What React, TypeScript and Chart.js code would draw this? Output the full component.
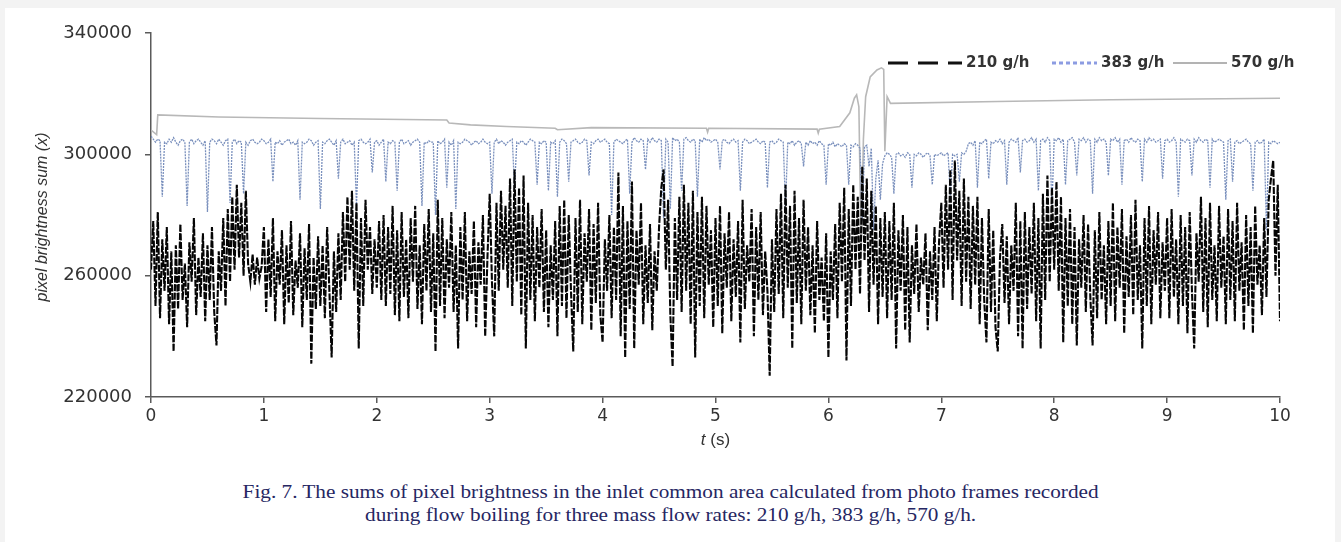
import React, { useEffect, useRef } from 'react';
import { Chart, registerables } from 'chart.js';

Chart.register(...registerables);

// ---------- data ----------
const SERIES_LABELS = ['210 g/h', '383 g/h', '570 g/h'];
const X_TICKS = [0, 1, 2, 3, 4, 5, 6, 7, 8, 9, 10];
const Y_TICKS = [220000, 260000, 300000, 340000];
const X_TITLE_ITALIC = 't';
const X_TITLE_REST = ' (s)';
const Y_TITLE = 'pixel brightness sum (x)';
const CAPTION_1 = 'Fig. 7. The sums of pixel brightness in the inlet common area calculated from photo frames recorded';
const CAPTION_2 = 'during flow boiling for three mass flow rates: 210 g/h, 383 g/h, 570 g/h.';

// sampling interval of the frame series (s)
const FRAME_DT = 0.02;

// 210 g/h, pixel brightness sum in thousands, one value per frame (t = 0 … 10 s)
const sum210k = [
  262, 278, 250, 281, 246, 272, 255, 276, 244, 268, 235, 270, 249, 277, 252, 264, 243, 271, 258, 279, 247, 266, 253, 274, 245,
  270, 252, 276, 248, 237, 268, 255, 279, 250, 282, 258, 286, 262, 290, 266, 284, 260, 288, 264, 258, 267, 257, 266, 259, 263,
  276, 248, 272, 253, 279, 245, 268, 257, 275, 244, 270, 251, 278, 247, 265, 256, 274, 243, 269, 252, 277, 231, 266, 249, 273,
  250, 270, 246, 276, 255, 233, 268, 248, 274, 252, 281, 258, 286, 262, 288, 255, 284, 236, 279, 250, 285, 262, 276, 254, 272,
  256, 278, 252, 280, 250, 276, 254, 283, 247, 275, 245, 281, 253, 272, 246, 279, 258, 283, 249, 270, 244, 277, 255, 282, 248,
  274, 235, 285, 250, 279, 246, 272, 256, 281, 248, 270, 236, 276, 252, 281, 245, 268, 254, 278, 243, 271, 257, 280, 240, 266,
  287, 258, 240, 284, 255, 288, 262, 283, 256, 292, 250, 295, 258, 289, 247, 293, 236, 284, 252, 280, 245, 276, 256, 282, 248,
  275, 243, 270, 252, 278, 240, 283, 250, 285, 246, 280, 255, 235, 279, 248, 285, 244, 274, 258, 282, 242, 277, 251, 284, 247,
  238, 272, 255, 280, 246, 276, 252, 294, 240, 283, 233, 278, 249, 291, 236, 275, 257, 284, 244, 270, 251, 277, 242, 268, 255,
  276, 289, 295, 262, 285, 247, 230, 279, 252, 286, 248, 290, 255, 284, 244, 288, 233, 281, 250, 286, 246, 283, 257, 275, 243,
  279, 250, 283, 241, 274, 256, 281, 245, 272, 253, 278, 238, 285, 249, 270, 258, 282, 240, 276, 252, 281, 247, 268, 255, 227,
  272, 248, 282, 254, 287, 246, 290, 256, 283, 236, 288, 251, 279, 244, 285, 255, 276, 247, 270, 241, 278, 252, 266, 245, 274,
  233, 268, 252, 277, 246, 284, 258, 289, 232, 282, 250, 290, 262, 286, 254, 296, 265, 292, 248, 288, 257, 283, 244, 279, 253,
  281, 246, 278, 252, 284, 236, 275, 255, 280, 242, 276, 238, 270, 254, 277, 248, 266, 257, 274, 242, 268, 252, 276, 245, 271,
  284, 256, 290, 262, 295, 252, 298, 265, 288, 250, 292, 258, 286, 249, 283, 257, 286, 244, 279, 252, 238, 282, 248, 275, 243,
  235, 266, 277, 251, 273, 244, 270, 255, 284, 240, 278, 236, 281, 249, 276, 254, 284, 245, 279, 236, 287, 252, 293, 258, 289,
  262, 291, 255, 286, 238, 279, 250, 282, 244, 276, 237, 272, 256, 280, 248, 277, 253, 237, 275, 246, 281, 252, 270, 244, 278,
  250, 284, 245, 276, 256, 282, 241, 273, 253, 280, 247, 285, 252, 270, 236, 279, 250, 283, 244, 275, 257, 281, 246, 271, 255,
  279, 246, 282, 253, 272, 244, 280, 250, 276, 241, 281, 255, 236, 274, 258, 286, 248, 279, 243, 284, 252, 270, 245, 283, 256,
  273, 244, 282, 252, 278, 245, 284, 255, 271, 242, 280, 250, 276, 241, 283, 257, 270, 247, 279, 253, 285, 292, 298, 260, 290,
  245,
];

// 383 g/h, pixel brightness sum in thousands, one value per frame (t = 0 … 10 s)
const sum383k = [
  306, 305, 304, 305, 304.5, 286, 304, 303.5, 305, 304, 305.5, 304, 303, 304.5, 305, 304, 283, 304, 305, 303.5, 304.5, 305, 304, 303, 304.5,
  281, 304, 305, 304.5, 303.5, 305, 304, 303, 304.5, 305, 284, 304, 305, 303.5, 304.5, 304, 287, 304, 303, 304.5, 305, 304, 303.5, 304, 305,
  304.5, 303.5, 304, 305, 291, 304, 303.5, 304.5, 303, 304, 304.5, 305, 303.5, 304, 303, 304.5, 285, 304, 303.5, 304, 305, 304.5, 303, 304, 304.5,
  282, 304, 303.5, 304.5, 305, 304, 303, 304.5, 292, 304, 305, 303.5, 304, 304.5, 303, 304, 283, 304.5, 305, 304, 303.5, 304, 305, 294, 304,
  304.5, 303, 304, 305, 291, 304, 303.5, 304.5, 304, 288, 304, 305, 303.5, 304, 304.5, 303, 304, 304.5, 305, 304, 283, 304, 303.5, 304.5, 304,
  304, 280, 304.5, 303.5, 304, 305, 289, 304, 303, 304.5, 282, 304, 303.5, 304, 305, 304.5, 304, 303, 304, 304.5, 303.5, 304, 305, 304, 303.5,
  304, 287, 304, 305, 303.5, 304.5, 304, 303, 304, 304.5, 305, 289, 304, 303.5, 304.5, 304, 303, 304, 305, 304.5, 304, 290, 304, 303.5, 304.5,
  304, 288, 304, 303.5, 304.5, 286, 304, 305, 304.5, 303.5, 291, 304, 304.5, 305, 304, 303.5, 304, 305, 304.5, 293, 304, 303.5, 304.5, 305, 304,
  304.5, 305, 304, 303.5, 280, 304, 305, 304.5, 304, 303.5, 304.5, 305, 287, 304, 305.5, 304.5, 304, 305, 304.5, 295, 305, 304, 305.5, 304.5, 304,
  305, 304.5, 279, 305, 304, 282, 305.5, 304.5, 305, 304, 288, 305, 305.5, 304.5, 304, 305, 304.5, 286, 305, 304, 305.5, 304.5, 305, 304, 304.5,
  305, 304, 295, 304.5, 305, 304, 303.5, 304.5, 305, 304, 304.5, 288, 304, 305, 304.5, 303.5, 304, 304.5, 305, 304, 303.5, 304.5, 304, 289, 304,
  304.5, 303.5, 304, 305, 304.5, 304, 283, 304, 303.5, 304.5, 303, 304, 304.5, 303.5, 296, 304, 303, 304.5, 303.5, 304, 303, 304.5, 303.5, 303, 290,
  303.5, 303, 304, 302.5, 303.5, 303, 302.5, 303.5, 303, 290, 303, 302.5, 303.5, 303, 302, 278, 302.5, 303, 296, 302, 275, 292, 298, 285, 297,
  299.5, 300.5, 300, 299, 287, 300, 300.5, 299.5, 300, 299, 300.5, 300, 289, 300, 299.5, 300.5, 300, 299, 300, 300.5, 299.5, 290, 300, 299.5, 300,
  300.5, 299.5, 300, 300.5, 286, 300, 299.5, 300, 291, 300.5, 300, 301, 303.5, 304, 303, 304.5, 289, 304, 303.5, 304.5, 305, 292, 304, 303.5, 304.5,
  304, 305, 303.5, 304.5, 290, 304, 305, 304.5, 304, 305.5, 294, 304.5, 305, 304, 304.5, 305.5, 304, 305, 288, 304.5, 305, 304, 305.5, 304.5, 283,
  305, 304.5, 305.5, 304, 305, 290, 304.5, 305, 305.5, 304, 293, 305, 304.5, 305.5, 304, 305, 304.5, 287, 305, 304, 305.5, 304.5, 305, 304, 293,
  305, 304.5, 305.5, 304, 305, 290, 304.5, 305, 304, 305.5, 304.5, 304, 305, 304.5, 291, 305, 304, 305.5, 304.5, 305, 304, 304.5, 305, 292, 304.5,
  305, 304, 304.5, 305.5, 304, 286, 305, 304.5, 304, 305, 304.5, 293, 305, 304, 305.5, 304.5, 304, 305, 304.5, 289, 305, 304, 304.5, 305, 304.5,
  304, 285, 304.5, 305, 291, 304, 304.5, 303.5, 304, 304.5, 305, 304, 303.5, 288, 304, 304.5, 303.5, 304, 305, 275, 304, 303.5, 304.5, 304, 303.5,
  304,
];

// 570 g/h, sampled where the signal changes (time in s, value)
const t570 = [0, 0.05, 0.06, 0.6, 1.5, 2.62, 2.64, 2.83, 3.15, 3.58, 3.6, 3.9, 4.92, 4.93, 4.94, 5.9, 5.91, 5.92, 6.1, 6.19, 6.23, 6.25, 6.27, 6.29, 6.31, 6.33, 6.37, 6.43, 6.47, 6.49, 6.5, 6.52, 6.55, 7.5, 8.5, 10];
const sum570 = [308000, 306500, 313000, 312300, 311800, 311300, 310300, 309700, 309200, 308600, 308100, 308800, 308600, 307300, 308600, 308300, 307000, 308300, 309200, 313700, 318500, 319600, 315700, 268000, 305000, 319000, 325500, 327800, 328500, 328000, 301000, 319000, 316800, 317400, 318000, 318500];

// ---------- styling ----------
const COLORS = ['#050505', '#7a90bd', '#b8b8b8'];
const LEGEND_COLORS = ['#111111', '#8c9ce2', '#9a9a9a'];
const TEXT_COLOR = '#333333';
const AXIS_COLOR = '#5a5a5a';

const decorPlugin = {
  id: 'decor',
  afterDraw(chart: any) {
    const ctx: CanvasRenderingContext2D = chart.ctx;
    const area = chart.chartArea;

    // y-axis title
    ctx.save();
    ctx.fillStyle = TEXT_COLOR;
    ctx.font = 'italic 16px "Liberation Sans", Arial, sans-serif';
    ctx.translate(43, 217);
    ctx.rotate(-Math.PI / 2);
    ctx.textAlign = 'center';
    ctx.textBaseline = 'middle';
    ctx.fillText(Y_TITLE, 0, 0);
    ctx.restore();

    // x-axis title: italic t + (s)
    ctx.save();
    ctx.fillStyle = TEXT_COLOR;
    const fItalic = 'italic 17px "Liberation Sans", Arial, sans-serif';
    const fNormal = '17px "Liberation Sans", Arial, sans-serif';
    ctx.font = fItalic;
    const w1 = ctx.measureText(X_TITLE_ITALIC).width;
    ctx.font = fNormal;
    const w2 = ctx.measureText(X_TITLE_REST).width;
    const cx = (area.left + area.right) / 2;
    const x0 = cx - (w1 + w2) / 2;
    ctx.textBaseline = 'middle';
    ctx.textAlign = 'left';
    ctx.font = fItalic;
    ctx.fillText(X_TITLE_ITALIC, x0, 440);
    ctx.font = fNormal;
    ctx.fillText(X_TITLE_REST, x0 + w1, 440);
    ctx.restore();

    // legend
    const starts = [888, 1052, 1173];
    const lens = [74, 45, 54];
    const dashes = [[20, 10], [4, 3], []];
    const widths = [3, 3, 1.5];
    const ly = 63;
    ctx.save();
    for (let i = 0; i < SERIES_LABELS.length; i++) {
      ctx.beginPath();
      ctx.setLineDash(dashes[i]);
      ctx.lineWidth = widths[i];
      ctx.strokeStyle = LEGEND_COLORS[i];
      ctx.moveTo(starts[i], ly);
      ctx.lineTo(starts[i] + lens[i], ly);
      ctx.stroke();
      ctx.setLineDash([]);
      ctx.fillStyle = TEXT_COLOR;
      ctx.font = 'bold 15px "DejaVu Sans", sans-serif';
      ctx.textAlign = 'left';
      ctx.textBaseline = 'middle';
      ctx.fillText(SERIES_LABELS[i], starts[i] + lens[i] + 4, ly);
    }
    ctx.restore();
  },
};

export default function App() {
  const canvasRef = useRef<HTMLCanvasElement>(null);

  useEffect(() => {
    const d210 = sum210k.map((v, i) => ({ x: i * FRAME_DT, y: v * 1000 }));
    const d383 = sum383k.map((v, i) => ({ x: i * FRAME_DT, y: v * 1000 }));
    const d570 = t570.map((t, i) => ({ x: t, y: sum570[i] }));

    const chart = new Chart(canvasRef.current as HTMLCanvasElement, {
      type: 'line',
      data: {
        datasets: [
          { label: SERIES_LABELS[0], data: d210, borderColor: COLORS[0], borderWidth: 2.1, borderDash: [7, 1.5], pointRadius: 0, tension: 0 },
          { label: SERIES_LABELS[1], data: d383, borderColor: COLORS[1], borderWidth: 1.3, borderDash: [2, 1], pointRadius: 0, tension: 0 },
          { label: SERIES_LABELS[2], data: d570, borderColor: COLORS[2], borderWidth: 1.6, pointRadius: 0, tension: 0 },
        ],
      },
      options: {
        responsive: false,
        animation: false,
        events: [],
        layout: { padding: { top: 33, right: 61, bottom: 0, left: 0 } },
        plugins: { legend: { display: false }, tooltip: { enabled: false } },
        scales: {
          x: {
            type: 'linear',
            min: 0,
            max: 10,
            afterBuildTicks: (s: any) => { s.ticks = X_TICKS.map((v) => ({ value: v })); },
            afterFit: (s: any) => { s.height = 63; },
            grid: { drawOnChartArea: false, drawTicks: true, tickLength: 6, color: AXIS_COLOR, lineWidth: 1.5 },
            border: { display: true, color: AXIS_COLOR, width: 1.5 },
            ticks: { color: TEXT_COLOR, font: { family: '"DejaVu Sans", sans-serif', size: 17 }, padding: 3, maxRotation: 0, autoSkip: false, callback: (v: any) => String(v) },
          },
          y: {
            type: 'linear',
            min: 220000,
            max: 340000,
            afterBuildTicks: (s: any) => { s.ticks = Y_TICKS.map((v) => ({ value: v })); },
            afterFit: (s: any) => { s.width = 151; },
            grid: { drawOnChartArea: false, drawTicks: true, tickLength: 6, color: AXIS_COLOR, lineWidth: 1.5 },
            border: { display: true, color: AXIS_COLOR, width: 1.5 },
            ticks: { color: TEXT_COLOR, font: { family: '"DejaVu Sans", sans-serif', size: 18 }, padding: 13, autoSkip: false, callback: (v: any) => String(v) },
          },
        },
      },
      plugins: [decorPlugin],
    } as any);

    return () => chart.destroy();
  }, []);

  return (
    <div style={{ position: 'absolute', left: 0, top: 0, width: 1341, height: 542, background: '#f3f3f3', overflow: 'hidden' }}>
      <div style={{ position: 'absolute', left: 5, top: 8, width: 1330, height: 534, background: '#ffffff' }} />
      <canvas ref={canvasRef} width={1341} height={460} style={{ position: 'absolute', left: 0, top: 0, display: 'block' }} />
      <div
        style={{
          position: 'absolute',
          left: 0,
          top: 481,
          width: 1341,
          textAlign: 'center',
          fontFamily: '"Liberation Serif", "Times New Roman", serif',
          fontSize: 18,
          lineHeight: '23px',
          color: '#262662',
          transform: 'scaleX(1.18)',
          transformOrigin: '670px 0px',
        }}
      >
        {CAPTION_1}
        <br />
        {CAPTION_2}
      </div>
    </div>
  );
}
